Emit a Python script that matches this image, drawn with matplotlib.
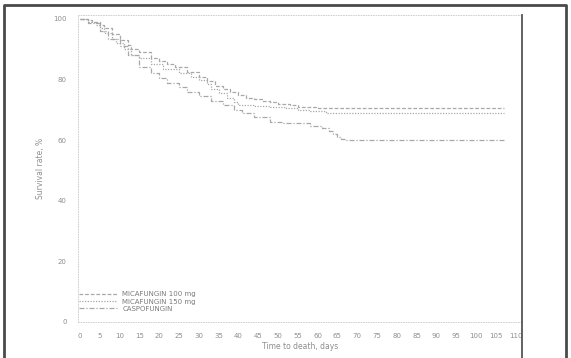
import matplotlib
matplotlib.use("Agg")
import matplotlib.pyplot as plt
from matplotlib.lines import Line2D

# Kaplan-Meier style survival curves
days_mica100 = [0, 2, 3, 5, 6, 8, 10, 12, 13, 15, 18, 20, 22, 24, 27, 30, 32,
                34, 36, 38, 40, 42, 44, 46, 48, 50, 53, 55, 58, 60, 107]
surv_mica100 = [100, 99.5, 99, 98, 97, 95, 93, 91.5, 90, 89, 87, 86, 85, 84, 82.5,
                81, 79.5, 78, 77, 76, 75, 74, 73.5, 73, 72.5, 72, 71.5, 71, 70.8,
                70.5, 70.5]

days_mica150 = [0, 2, 4, 5, 6, 8, 9, 11, 13, 15, 18, 21, 25, 28, 30, 32, 33, 35,
                37, 39, 40, 44, 48, 52, 55, 58, 62, 107]
surv_mica150 = [100, 99, 98, 97, 95.5, 93.5, 92, 90, 88, 87, 85, 83.5, 82, 81, 80,
                78.5, 77, 75.5, 74, 72.5, 71.6, 71.3, 71, 70.5, 70, 69.5, 69, 69]

days_caspo = [0, 2, 5, 7, 10, 12, 15, 18, 20, 22, 25, 27, 30, 33, 36, 39, 41, 44,
              48, 51, 54, 58, 61, 63, 64, 65, 66, 67, 107]
surv_caspo = [100, 98.5, 96, 93.5, 91, 88, 84, 82, 80.5, 79, 77.5, 76, 74.5, 73,
              71.5, 70, 69, 67.5, 66, 65.8, 65.5, 64.8, 64, 63, 62, 61.2, 60.5, 60, 60]

series_labels = ["MICAFUNGIN 100 mg", "MICAFUNGIN 150 mg", "CASPOFUNGIN"]
x_ticks = list(range(0, 115, 5))
y_ticks = [0, 20, 40, 60, 80, 100]

W, H = 571, 358
fig = plt.figure(figsize=(W / 100, H / 100), dpi=100)
fig.patch.set_facecolor("white")

# axes box placed in pixel terms of the reference
left, right, bottom, top = 78, 522, 322, 15
ax = fig.add_axes([left / W, 1 - bottom / H, (right - left) / W, (bottom - top) / H])

txt = "#8e8e8e"
line_col = "#a8a8a8"

ax.plot(days_mica100, surv_mica100, drawstyle="steps-post", color=line_col,
        lw=0.9, linestyle=(0, (3, 1.5)), label=series_labels[0])
ax.plot(days_mica150, surv_mica150, drawstyle="steps-post", color=line_col,
        lw=0.9, linestyle=(0, (1, 1.2)), label=series_labels[1])
ax.plot(days_caspo, surv_caspo, drawstyle="steps-post", color=line_col,
        lw=0.9, linestyle=(0, (4, 1.5, 1, 1.5)), label=series_labels[2])

ax.set_xlim(-0.5, (right - 80) / 3.96)
ax.set_ylim(0, 101.3)
ax.set_xticks(x_ticks)
ax.set_yticks(y_ticks)
ax.tick_params(axis="both", length=0, labelsize=5, colors=txt)
ax.tick_params(axis="x", pad=8)
ax.tick_params(axis="y", pad=8)

for s in ["left", "bottom", "top"]:
    ax.spines[s].set_color("#c8c8c8")
    ax.spines[s].set_linewidth(0.6)
    ax.spines[s].set_linestyle((0, (1, 2)))
ax.spines["right"].set_visible(False)

ax.set_xlabel("Time to death, days", fontsize=5.5, color=txt, labelpad=2)
ax.set_ylabel("Survival rate, %", fontsize=5.5, color=txt, labelpad=6)

leg = ax.legend(loc="lower left", bbox_to_anchor=(-0.005, 0.025), frameon=False,
                fontsize=5, handlelength=5.5, handletextpad=0.8,
                labelspacing=0.15, borderaxespad=0)
for t in leg.get_texts():
    t.set_color("#7a7a7a")

# dark vertical rule at the right of the plot and the scan's outer frame
fig.add_artist(Line2D([522 / W, 522 / W], [1 - 15 / H, 0], color="#555555", lw=1.3))
fig.add_artist(Line2D([4 / W, 4 / W, 566 / W, 566 / W], [0, 1 - 5 / H, 1 - 5 / H, 0],
                      color="#4a4a4a", lw=2))

fig.savefig("out.png", dpi=100)
